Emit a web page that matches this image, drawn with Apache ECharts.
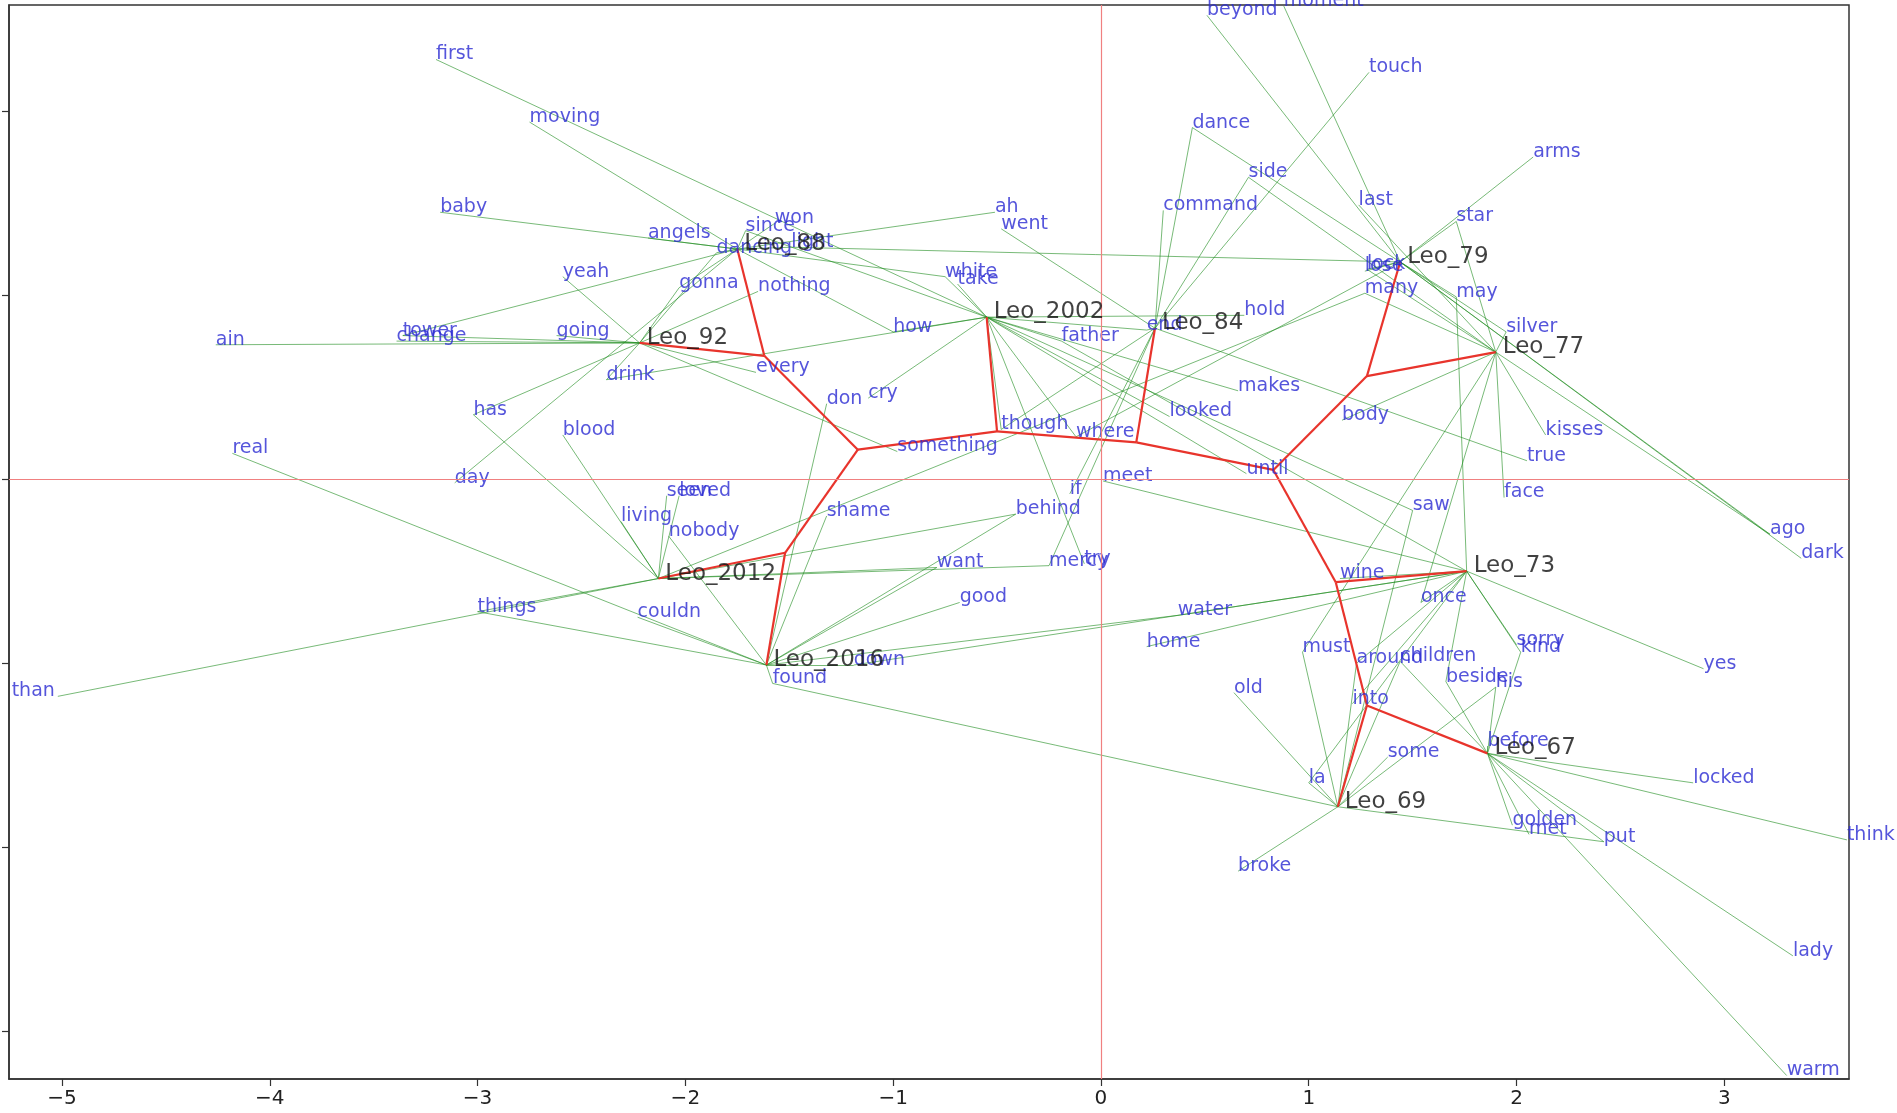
<!DOCTYPE html>
<html><head><meta charset="utf-8">
<script src="https://cdn.jsdelivr.net/npm/echarts@6/dist/echarts.min.js"></script>
<style>html,body{margin:0;padding:0;background:#fff}#c{width:1897px;height:1113px}</style>
</head><body><div id="c"></div>
<script>
// Leo nodes (documents)
const leoNames = ['Leo_88','Leo_92','Leo_2002','Leo_84','Leo_79','Leo_77','Leo_73','Leo_67','Leo_69','Leo_2016','Leo_2012'];
const leoX = [-1.75,-2.22,-0.55,0.26,1.44,1.90,1.76,1.86,1.14,-1.61,-2.13];
const leoY = [1.25,0.74,0.88,0.82,1.18,0.69,-0.50,-1.49,-1.78,-1.01,-0.54];

// internal tree nodes
const innerNames = ['A','B','C','D','E','F','G','H','I'];
const innerX = [-1.62,-1.17,-0.50,-1.52,0.17,0.83,1.28,1.13,1.28];
const innerY = [0.67,0.16,0.26,-0.40,0.20,0.05,0.56,-0.56,-1.23];

// tree edges (red)
const treeFrom = ['Leo_92','Leo_88','A','B','B','D','D','C','C','E','E','F','G','G','F','H','H','I','I'];
const treeTo   = ['A','A','B','C','D','Leo_2012','Leo_2016','Leo_2002','E','Leo_84','F','G','Leo_79','Leo_77','H','Leo_73','I','Leo_67','Leo_69'];

// words
const words = ['first','moving','baby','yeah','ain','tower','change','going','drink','has','blood','real','day','living','seen','loved','nobody','angels','since','won','dancing','light','gonna','nothing','ah','went','white','take','how','father','end','hold','every','don','cry','something','though','where','makes','looked','until','meet','if','shame','behind','beyond','moment','dance','side','command','touch','arms','last','star','lock','lose','many','may','silver','body','kisses','true','face','saw','ago','dark','things','than','want','mercy','try','good','couldn','water','home','down','found','old','broke','wine','once','must','around','children','sorry','kind','yes','beside','his','into','before','some','locked','la','golden','met','put','think','lady','warm'];
const wordX = [-3.20,-2.75,-3.18,-2.59,-4.26,-3.36,-3.39,-2.62,-2.38,-3.02,-2.59,-4.18,-3.11,-2.31,-2.09,-2.03,-2.08,-2.18,-1.71,-1.57,-1.85,-1.49,-2.03,-1.65,-0.51,-0.48,-0.75,-0.69,-1.00,-0.19,0.22,0.69,-1.66,-1.32,-1.12,-0.98,-0.48,-0.12,0.66,0.33,0.70,0.01,-0.15,-1.32,-0.41,0.51,0.88,0.44,0.71,0.30,1.29,2.08,1.24,1.71,1.28,1.27,1.27,1.71,1.95,1.16,2.14,2.05,1.94,1.50,3.22,3.37,-3.00,-5.02,-0.79,-0.25,-0.08,-0.68,-2.23,0.37,0.22,-1.19,-1.58,0.64,0.66,1.15,1.54,0.97,1.23,1.44,2.00,2.02,2.90,1.66,1.90,1.21,1.86,1.38,2.85,1.00,1.98,2.06,2.42,3.59,3.33,3.30];
const wordY = [2.28,1.94,1.45,1.10,0.73,0.78,0.75,0.78,0.54,0.35,0.24,0.14,-0.02,-0.23,-0.09,-0.09,-0.31,1.31,1.35,1.39,1.23,1.26,1.04,1.02,1.45,1.36,1.10,1.06,0.80,0.75,0.81,0.89,0.58,0.41,0.44,0.15,0.27,0.23,0.48,0.34,0.03,-0.01,-0.08,-0.20,-0.19,2.52,2.57,1.91,1.64,1.46,2.21,1.75,1.49,1.40,1.14,1.13,1.01,0.99,0.80,0.32,0.24,0.10,-0.10,-0.17,-0.30,-0.43,-0.72,-1.18,-0.48,-0.47,-0.46,-0.67,-0.75,-0.74,-0.91,-1.01,-1.11,-1.16,-2.13,-0.54,-0.67,-0.94,-1.00,-0.99,-0.90,-0.94,-1.03,-1.10,-1.13,-1.22,-1.45,-1.51,-1.65,-1.65,-1.88,-1.93,-1.97,-1.96,-2.59,-3.24];
// documents each word is linked to
const wordLinks = [['Leo_2002'],['Leo_88'],['Leo_88'],['Leo_92'],['Leo_92'],['Leo_92','Leo_88'],['Leo_92'],['Leo_92'],['Leo_92','Leo_2002'],['Leo_92','Leo_2012'],['Leo_2012'],['Leo_2016'],['Leo_88'],['Leo_2012'],['Leo_2012'],['Leo_2012'],['Leo_2016'],['Leo_88'],['Leo_88','Leo_2002'],['Leo_88'],['Leo_88','Leo_92'],['Leo_88','Leo_79'],['Leo_92','Leo_88'],['Leo_92'],['Leo_88'],['Leo_84'],['Leo_88','Leo_2002'],['Leo_2002'],['Leo_88','Leo_2002'],['Leo_2002','Leo_73'],['Leo_84','Leo_2002'],['Leo_2002'],['Leo_92'],['Leo_2016'],['Leo_2002'],['Leo_92'],['Leo_84','Leo_2002'],['Leo_79','Leo_2002'],['Leo_2002'],['Leo_2002'],['Leo_2002'],['Leo_73'],['Leo_84'],['Leo_2016'],['Leo_2012','Leo_2016'],['Leo_79'],['Leo_79'],['Leo_84','Leo_79'],['Leo_84','Leo_77'],['Leo_84'],['Leo_84'],['Leo_79'],['Leo_77'],['Leo_79','Leo_77'],['Leo_79','Leo_77'],['Leo_79'],['Leo_77','Leo_2012'],['Leo_79','Leo_73'],['Leo_79','Leo_77'],['Leo_77'],['Leo_77'],['Leo_84'],['Leo_77'],['Leo_2002','Leo_69'],['Leo_77','Leo_79'],['Leo_79'],['Leo_2012','Leo_2016'],['Leo_2012'],['Leo_2012','Leo_2016'],['Leo_2012','Leo_84'],['Leo_2002'],['Leo_2016'],['Leo_2016'],['Leo_2016','Leo_73'],['Leo_73'],['Leo_2016','Leo_73'],['Leo_2016','Leo_69'],['Leo_69'],['Leo_69'],['Leo_73'],['Leo_77','Leo_73'],['Leo_69','Leo_77'],['Leo_69','Leo_73'],['Leo_69','Leo_67'],['Leo_73'],['Leo_73','Leo_67'],['Leo_73'],['Leo_67','Leo_73'],['Leo_69','Leo_67'],['Leo_73'],['Leo_67'],['Leo_69'],['Leo_67'],['Leo_69','Leo_73'],['Leo_67'],['Leo_67'],['Leo_69','Leo_67'],['Leo_67'],['Leo_67'],['Leo_67']];
const leftLabelWords = ['than'];

// tick values
const xTicks = [-5,-4,-3,-2,-1,0,1,2,3];
const yTicks = [-3,-2,-1,0,1,2];

const pos = {};
leoNames.forEach((n,i)=>{pos[n]=[leoX[i],leoY[i]];});
innerNames.forEach((n,i)=>{pos[n]=[innerX[i],innerY[i]];});

const greenData = [];
words.forEach((w,i)=>{
  wordLinks[i].forEach(t=>{ greenData.push({coords:[[wordX[i],wordY[i]], pos[t]]}); });
});
const redData = treeFrom.map((f,i)=>({coords:[pos[f], pos[treeTo[i]]]}));

const wordData = words.map((w,i)=>{
  const d = {name:w, value:[wordX[i],wordY[i]]};
  if (leftLabelWords.indexOf(w) >= 0) d.label = {position:'left', offset:[-3,-5]};
  return d;
});
const leoData = leoNames.map((n,i)=>({name:n, value:[leoX[i],leoY[i]]}));

const chart = echarts.init(document.getElementById('c'));
chart.setOption({
  animation:false,
  backgroundColor:'#fff',
  grid:{left:9,right:48,top:5,bottom:34,show:true,borderColor:'#333',borderWidth:1.5,containLabel:false},
  xAxis:{type:'value',min:-5.255,max:3.6,
    splitLine:{show:false},
    axisLine:{show:true,onZero:false,lineStyle:{color:'#333',width:1.5}},
    axisTick:{show:true,length:7,customValues:xTicks,lineStyle:{color:'#333',width:1.2}},
    axisLabel:{customValues:xTicks,formatter:v=>String(v).replace('-','\u2212'),fontSize:20,color:'#222',margin:10,fontFamily:'DejaVu Sans'}},
  yAxis:{type:'value',min:-3.259,max:2.576,
    splitLine:{show:false},
    axisLine:{show:true,onZero:false,lineStyle:{color:'#333',width:1.5}},
    axisTick:{show:true,length:7,customValues:yTicks,lineStyle:{color:'#333',width:1.2}},
    axisLabel:{show:false}},
  series:[
    {type:'scatter',data:[],z:1,silent:true,
     markLine:{silent:true,symbol:['none','none'],label:{show:false},
       lineStyle:{color:'#f08080',width:1.2,type:'solid'},
       data:[{xAxis:0},{yAxis:0}]}},
    {type:'lines',coordinateSystem:'cartesian2d',data:greenData,z:2,silent:true,
     lineStyle:{color:'rgba(30,140,30,0.6)',width:1,opacity:1}},
    {type:'lines',coordinateSystem:'cartesian2d',data:redData,z:3,silent:true,
     lineStyle:{color:'#e8342c',width:2.2,opacity:1}},
    {type:'scatter',data:wordData,z:4,symbolSize:0,silent:true,clip:false,
     label:{show:true,formatter:'{b}',position:'right',distance:0,offset:[0,-5],
       fontSize:19,fontFamily:'DejaVu Sans',color:'#2a2ad2'}},
    {type:'scatter',data:leoData,z:5,symbolSize:0,silent:true,clip:false,
     label:{show:true,formatter:'{b}',position:'right',distance:0,offset:[7,-5],
       fontSize:23,fontFamily:'DejaVu Sans',color:'#111'}}
  ]
});
</script></body></html>
